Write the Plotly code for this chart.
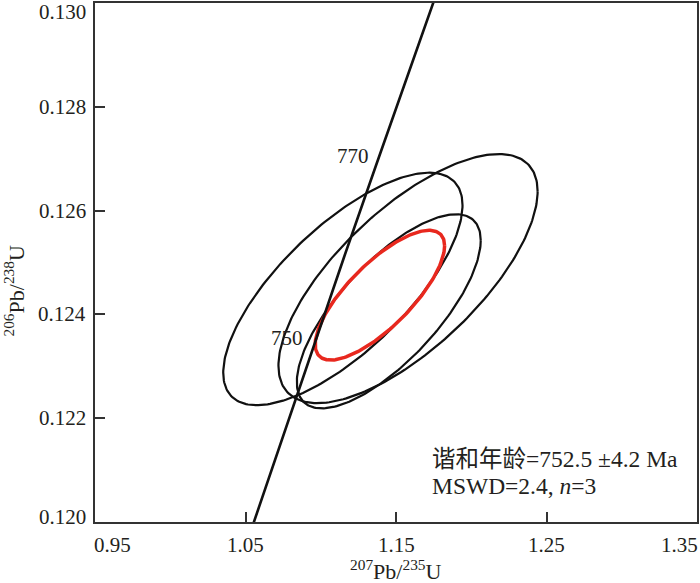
import numpy as np
import plotly.graph_objects as go

# ---- data ----
# concordia curve points (age in Ma, 207Pb/235U, 206Pb/238U)
conc_age = [725, 730, 740, 750, 760, 770, 780, 790]
conc_x = [1.0442, 1.0544, 1.0746, 1.0951, 1.1158, 1.1367, 1.1578, 1.1792]
conc_y = [0.11903, 0.11990, 0.12164, 0.12338, 0.12513, 0.12687, 0.12862, 0.13037]

# age labels on concordia
age_label_text = ["770", "750"]
age_label_x = [1.1214, 1.0775]
age_label_y = [0.12705, 0.12354]

# individual analyses error ellipses (centre, half-widths, correlation)
ell_cx = [1.1147, 1.1580, 1.1452]
ell_cy = [0.12449, 0.12469, 0.12406]
ell_sx = [0.0795, 0.0861, 0.0611]
ell_sy = [0.00224, 0.00240, 0.00187]
ell_rho = [0.72, 0.70, 0.73]

# concordia age (mean) ellipse
mean_cx = 1.1393
mean_cy = 0.12437
mean_sx = 0.0430
mean_sy = 0.00125
mean_rho = 0.76

xtick_vals = [0.95, 1.05, 1.15, 1.25, 1.35]
xtick_text = ["0.95", "1.05", "1.15", "1.25", "1.35"]
ytick_vals = [0.120, 0.122, 0.124, 0.126, 0.128, 0.130]
ytick_text = ["0.120", "0.122", "0.124", "0.126", "0.128", "0.130"]

result_lines = ["谐和年龄=752.5 ±4.2 Ma", "MSWD=2.4, <i>n</i>=3"]

# ---- figure ----
SERIF = "Liberation Serif, Times New Roman, serif"
TXT = "#231f20"


def ellipse(cx, cy, sx, sy, rho, n=241):
    t = np.linspace(0, 2 * np.pi, n)
    x = cx + sx * np.cos(t)
    y = cy + sy * (rho * np.cos(t) + np.sqrt(1 - rho ** 2) * np.sin(t))
    return x, y


fig = go.Figure()
for cx, cy, sx, sy, r in zip(ell_cx, ell_cy, ell_sx, ell_sy, ell_rho):
    ex, ey = ellipse(cx, cy, sx, sy, r)
    fig.add_trace(go.Scatter(x=ex, y=ey, mode="lines",
                             line=dict(color="#111111", width=2.2), hoverinfo="skip"))

mx, my = ellipse(mean_cx, mean_cy, mean_sx, mean_sy, mean_rho)
fig.add_trace(go.Scatter(x=mx, y=my, mode="lines",
                         line=dict(color="#e8281e", width=3.5), hoverinfo="skip"))

fig.add_trace(go.Scatter(x=conc_x, y=conc_y, mode="lines",
                         line=dict(color="#111111", width=2.6), hoverinfo="skip"))

ann = []
for t, x, y in zip(age_label_text, age_label_x, age_label_y):
    ann.append(dict(x=x, y=y, xref="x", yref="y", text=t, showarrow=False,
                    font=dict(family=SERIF, size=21, color=TXT)))

# tick labels
for i, (v, t) in enumerate(zip(xtick_vals, xtick_text)):
    xa = "center"
    xs = 0
    if i == 0:
        xa, xs = "left", -3
    elif i == len(xtick_vals) - 1:
        xa, xs = "right", 3
    ann.append(dict(x=v, y=0, xref="x", yref="paper", text=t, showarrow=False,
                    xanchor=xa, yanchor="middle", xshift=xs, yshift=-23,
                    font=dict(family=SERIF, size=21, color=TXT)))
for i, (v, t) in enumerate(zip(ytick_vals, ytick_text)):
    ys = 0
    if i == 0:
        ys = 5
    elif i == len(ytick_vals) - 1:
        ys = -9
    ann.append(dict(x=0, y=v, xref="paper", yref="y", text=t, showarrow=False,
                    xanchor="right", yanchor="middle", xshift=-7, yshift=ys,
                    font=dict(family=SERIF, size=21, color=TXT)))

# axis titles
ann.append(dict(x=0.5, y=0, xref="paper", yref="paper",
                text="<sup>207</sup>Pb/<sup>235</sup>U", showarrow=False,
                xanchor="center", yanchor="middle", yshift=-48,
                font=dict(family=SERIF, size=22, color=TXT)))
ann.append(dict(x=0, y=0.446, xref="paper", yref="paper",
                text="<sup>206</sup>Pb/<sup>238</sup>U", showarrow=False,
                textangle=-90, xanchor="center", yanchor="middle", xshift=-81,
                font=dict(family=SERIF, size=22, color=TXT)))

# result text
res_y = [0.121217, 0.120699]
for t, y in zip(result_lines, res_y):
    ann.append(dict(x=1.1747, y=y, xref="x", yref="y", text=t, showarrow=False,
                    xanchor="left", yanchor="middle", xshift=-3,
                    font=dict(family="Liberation Serif, Noto Sans CJK SC, serif", size=23.5, color=TXT)))

axis_common = dict(showgrid=False, zeroline=False, showline=True, mirror=True,
                   linecolor="#333333", linewidth=1.5, ticks="inside", ticklen=10,
                   tickwidth=1.5, tickcolor="#333333", showticklabels=False)

fig.update_layout(
    width=700, height=583,
    margin=dict(l=95, r=3, t=1, b=61),
    paper_bgcolor="white", plot_bgcolor="white",
    showlegend=False,
    xaxis=dict(range=[0.95, 1.35], tickvals=xtick_vals, **axis_common),
    yaxis=dict(range=[0.120, 0.130], tickvals=ytick_vals, **axis_common),
    annotations=ann,
)

fig.write_html("out.html", config={"displayModeBar": False},
               post_script="document.body.style.margin='0';document.body.style.overflow='hidden';")
